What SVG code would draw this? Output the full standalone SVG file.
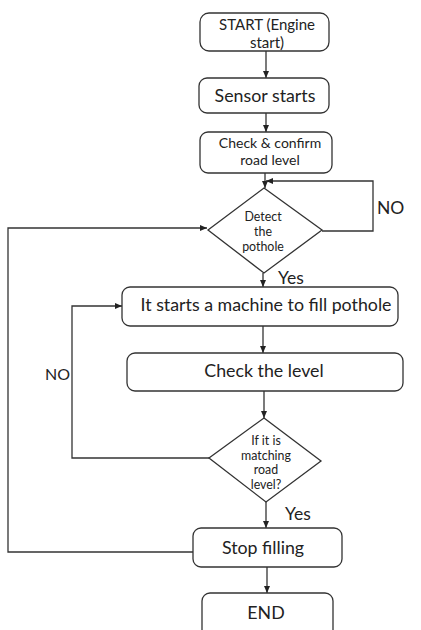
<svg xmlns="http://www.w3.org/2000/svg" width="421" height="630" viewBox="0 0 421 630">
<defs>
<marker id="ah" markerWidth="8" markerHeight="8" refX="7" refY="4" orient="auto" markerUnits="userSpaceOnUse">
<path d="M0,1 L7,4 L0,7 Z" fill="#222"/>
</marker>
</defs>
<style>
.n{fill:#fff;stroke:#333;stroke-width:1.3}
.c{fill:none;stroke:#333;stroke-width:1.3}
text{font-family:Lato,"Open Sans",sans-serif;fill:#222;text-anchor:middle}
.b{font-size:17.8px}
.m{font-size:14px}
.s{font-size:12.4px}
.l{font-size:17.5px;text-anchor:start}
</style>
<rect width="421" height="630" fill="#fff"/>
<g id="connectors">
<path class="c" d="M266,51 V78" marker-end="url(#ah)"/>
<path class="c" d="M266,113 V132" marker-end="url(#ah)"/>
<path class="c" d="M265,173 V188" marker-end="url(#ah)"/>
<path class="c" d="M322,231 H373 V181 H266" marker-end="url(#ah)"/>
<path class="c" d="M263,273 V287" marker-end="url(#ah)"/>
<path class="c" d="M263,326 V353" marker-end="url(#ah)"/>
<path class="c" d="M264,391 V418" marker-end="url(#ah)"/>
<path class="c" d="M209,458 H72 V306 H122" marker-end="url(#ah)"/>
<path class="c" d="M266,502 V528" marker-end="url(#ah)"/>
<path class="c" d="M193,552 H8 V228 H207" marker-end="url(#ah)"/>
<path class="c" d="M267,567 V593" marker-end="url(#ah)"/>
</g>
<g id="start">
<rect class="n" x="200" y="13" width="129" height="38" rx="9"/>
<text x="267" y="30" style="font-size:15px">START (Engine</text>
<text x="267" y="48" style="font-size:15px">start)</text>
</g>
<g id="sensor">
<rect class="n" x="199" y="78" width="130" height="35" rx="8"/>
<text class="b" x="265" y="102">Sensor starts</text>
</g>
<g id="check">
<rect class="n" x="200" y="132" width="132" height="41" rx="8"/>
<text class="m" x="270" y="147.5">Check &amp; confirm</text>
<text class="m" x="270" y="164.5">road level</text>
</g>
<g id="detect">
<polygon class="n" points="264,188 322,230 264,273 208,230"/>
<text class="s" x="263" y="221">Detect</text>
<text class="s" x="263" y="236">the</text>
<text class="s" x="263" y="251">pothole</text>
</g>
<g id="machine">
<rect class="n" x="122" y="287" width="276" height="39" rx="8"/>
<text class="b" x="266" y="311">It starts a machine to fill pothole</text>
</g>
<g id="checklevel">
<rect class="n" x="127" y="353" width="276" height="38" rx="8"/>
<text class="b" x="264" y="377">Check the level</text>
</g>
<g id="matching">
<polygon class="n" points="264,418 321,461 266,502 209,458"/>
<text class="s" x="266" y="445">If it is</text>
<text class="s" x="266" y="460">matching</text>
<text class="s" x="266" y="474">road</text>
<text class="s" x="266" y="489">level?</text>
</g>
<g id="stop">
<rect class="n" x="193" y="528" width="149" height="39" rx="8"/>
<text class="b" x="263" y="554">Stop filling</text>
</g>
<g id="end">
<rect class="n" x="202" y="593" width="131" height="45" rx="8"/>
<text class="b" x="266" y="619">END</text>
</g>
<g id="labels">
<text class="l" x="377" y="214">NO</text>
<text class="l" x="278" y="284">Yes</text>
<text class="l" x="45" y="380" style="font-size:16px">NO</text>
<text class="l" x="285" y="520">Yes</text>
</g>
</svg>
